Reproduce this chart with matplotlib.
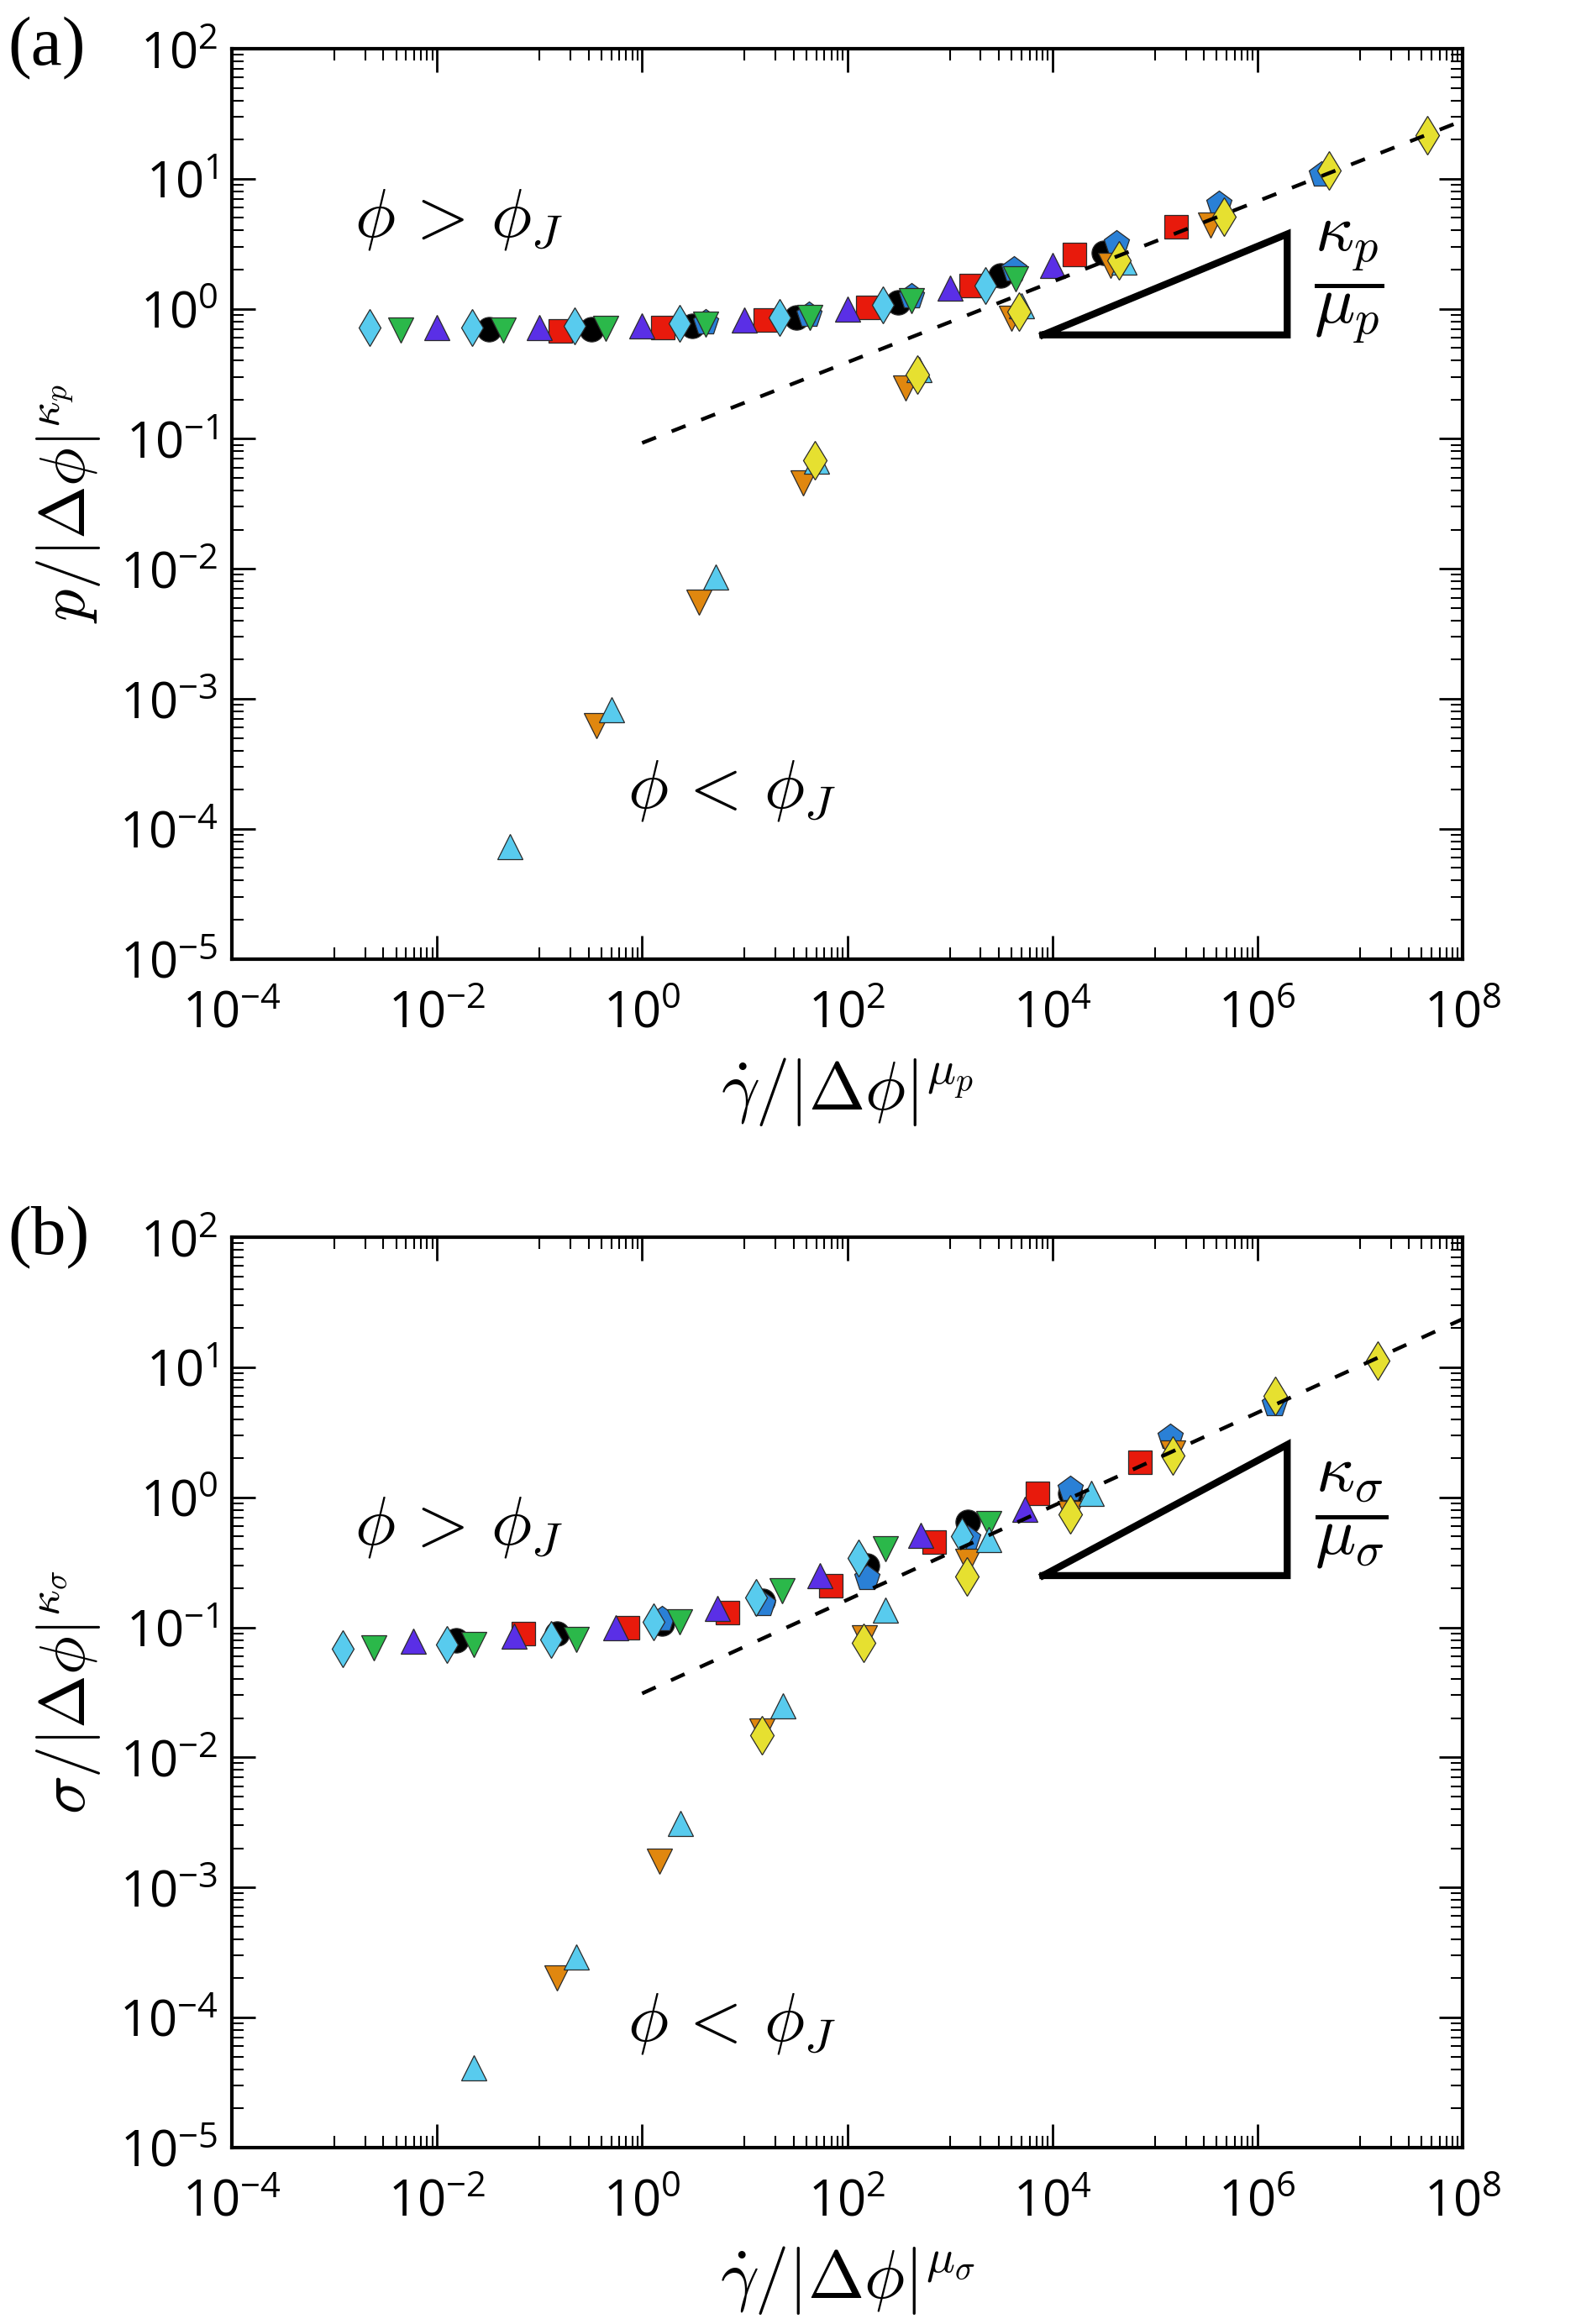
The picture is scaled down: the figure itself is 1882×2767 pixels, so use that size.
import math
import matplotlib
matplotlib.use('Agg')
import matplotlib.pyplot as plt
from matplotlib.ticker import FixedLocator, LogLocator, NullFormatter, FuncFormatter

plt.rcParams['font.family'] = ['Open Sans', 'DejaVu Sans']
plt.rcParams['mathtext.fontset'] = 'custom'
plt.rcParams['mathtext.rm'] = 'Open Sans'
plt.rcParams['mathtext.it'] = 'Open Sans:italic'

# ---- panel (a): p / |dphi|^kappa_p  vs  gammadot / |dphi|^mu_p ----
a_cyan_dia_x = [2.2e-3, 2.2e-2, 2.2e-1, 2.3, 22, 224, 2240]
a_cyan_dia_y = [0.72, 0.72, 0.74, 0.77, 0.86, 1.08, 1.52]
a_green_x = [4.4e-3, 4.4e-2, 0.44, 4.2, 43, 420, 4400]
a_green_y = [0.69, 0.69, 0.71, 0.76, 0.86, 1.15, 1.70]
a_purple_x = [1e-2, 0.1, 1.0, 10, 100, 1000, 1e4]
a_purple_y = [0.72, 0.72, 0.74, 0.82, 1.0, 1.45, 2.15]
a_black_x = [3.2e-2, 0.32, 3.1, 32, 310, 3100, 3.2e4]
a_black_y = [0.70, 0.70, 0.74, 0.86, 1.12, 1.80, 2.70]
a_red_x = [0.16, 1.6, 16, 160, 1600, 1.65e4, 1.6e5]
a_red_y = [0.68, 0.72, 0.82, 1.02, 1.50, 2.60, 4.30]
a_pent_x = [4.2, 42, 420, 4200, 4.2e4, 4.2e5, 4.2e6]
a_pent_y = [0.78, 0.90, 1.25, 2.0, 3.2, 6.4, 10.7]
a_orange_x = [0.36, 3.6, 37, 370, 4000, 3.7e4, 3.5e5]
a_orange_y = [6.2e-4, 5.5e-3, 0.046, 0.245, 0.85, 2.15, 4.4]
a_cyan_up_x = [0.051, 0.50, 5.2, 50, 500, 5000, 5e4]
a_cyan_up_y = [7.3e-5, 8.2e-4, 8.7e-3, 0.067, 0.34, 1.05, 2.3]
a_yellow_x = [48, 480, 4700, 4.5e4, 4.7e5, 5e6, 4.5e7]
a_yellow_y = [0.068, 0.31, 0.95, 2.35, 5.1, 11.6, 21.8]
a_fit_x = [1.0, 1e8]
a_fit_y = [0.093, 28.0]
a_tri_x = [8100, 1.95e6, 1.95e6, 8100]
a_tri_y = [0.63, 3.76, 0.63, 0.63]

# ---- panel (b): sigma / |dphi|^kappa_s  vs  gammadot / |dphi|^mu_s ----
b_cyan_dia_x = [1.2e-3, 1.25e-2, 0.13, 1.3, 13, 130, 1300]
b_cyan_dia_y = [0.068, 0.074, 0.081, 0.11, 0.17, 0.34, 0.50]
b_green_x = [2.4e-3, 2.3e-2, 0.23, 2.3, 23, 235, 2400]
b_green_y = [0.069, 0.074, 0.081, 0.11, 0.19, 0.40, 0.63]
b_purple_x = [5.9e-3, 0.056, 0.55, 5.4, 54, 520, 5400]
b_purple_y = [0.078, 0.085, 0.10, 0.14, 0.25, 0.51, 0.81]
b_black_x = [0.0155, 0.148, 1.55, 15, 155, 1500, 1.5e4]
b_black_y = [0.079, 0.089, 0.107, 0.16, 0.30, 0.65, 1.07]
b_red_x = [0.07, 0.72, 6.8, 69, 710, 7200, 7.1e4]
b_red_y = [0.09, 0.10, 0.13, 0.21, 0.45, 1.07, 1.86]
b_pent_x = [1.55, 15, 155, 1500, 1.5e4, 1.4e5, 1.45e6]
b_pent_y = [0.115, 0.15, 0.24, 0.48, 1.15, 2.9, 5.2]
b_orange_x = [0.148, 1.48, 14.8, 148, 1500, 1.5e4, 1.5e5]
b_orange_y = [2.0e-4, 1.6e-3, 0.016, 0.083, 0.32, 0.75, 2.2]
b_cyan_up_x = [0.023, 0.23, 2.35, 23.5, 235, 2400, 2.4e4]
b_cyan_up_y = [4.1e-5, 2.9e-4, 3.1e-3, 0.025, 0.135, 0.47, 1.07]
b_yellow_x = [14.8, 145, 1480, 1.5e4, 1.5e5, 1.5e6, 1.5e7]
b_yellow_y = [0.0148, 0.076, 0.245, 0.74, 2.1, 6.0, 11.2]
b_fit_x = [1.0, 1e8]
b_fit_y = [0.031, 23.5]
b_tri_x = [8100, 1.95e6, 1.95e6, 8100]
b_tri_y = [0.25, 2.54, 0.25, 0.25]

x_major = [1e-4, 1e-2, 1e0, 1e2, 1e4, 1e6, 1e8]
x_minor = [k * 10.0 ** e for e in (-3, -1, 1, 3, 5, 7) for k in range(1, 10)]

c_cyan = '#58cbee'
c_green = '#2bb84a'
c_purple = '#5a2fe6'
c_red = '#e81a0c'
c_pent = '#2a80d6'
c_orange = '#e0870f'
c_yellow = '#e6e030'
edge = '#2a2a2a'


def draw_panel(ax, d, tri, fit, txt_frac, frac_pos, up_pos, lo_pos, xlab, ylab, tag):
    (cd, gr, pu, bk, rd, pt, orr, cu, ye) = d
    kw = dict(linestyle='none', markeredgecolor=edge, markeredgewidth=0.9)
    ax.plot(bk[0], bk[1], marker='o', color='black', markersize=21, **kw)
    ax.plot(pt[0], pt[1], marker='p', color=c_pent, markersize=23, **kw)
    ax.plot(rd[0], rd[1], marker='s', color=c_red, markersize=20, **kw)
    ax.plot(pu[0], pu[1], marker='^', color=c_purple, markersize=21, **kw)
    ax.plot(cd[0], cd[1], marker='d', color=c_cyan, markersize=22, **kw)
    ax.plot(gr[0], gr[1], marker='v', color=c_green, markersize=21, **kw)
    ax.plot(orr[0], orr[1], marker='v', color=c_orange, markersize=21, **kw)
    ax.plot(cu[0], cu[1], marker='^', color=c_cyan, markersize=21, **kw)
    ax.plot(ye[0], ye[1], marker='d', color=c_yellow, markersize=23, **kw)

    ax.plot(fit[0], fit[1], color='black', linestyle=(0, (4, 4.5)), linewidth=3.2)
    ax.plot(tri[0], tri[1], color='black', linewidth=6, solid_joinstyle='miter')

    ax.set_xscale('log')
    ax.set_yscale('log')
    ax.set_xlim(1e-4, 1e8)
    ax.set_ylim(1e-5, 1e2)
    ax.xaxis.set_major_locator(FixedLocator(x_major))
    ax.xaxis.set_minor_locator(FixedLocator(x_minor))
    ax.xaxis.set_minor_formatter(NullFormatter())
    ax.yaxis.set_major_locator(LogLocator(base=10, numticks=20))
    ax.yaxis.set_minor_locator(LogLocator(base=10, subs=range(2, 10), numticks=20))
    ax.yaxis.set_minor_formatter(NullFormatter())
    fmt = FuncFormatter(lambda v, p: r'$\mathregular{10^{%d}}$' % round(math.log10(v)))
    ax.xaxis.set_major_formatter(fmt)
    ax.yaxis.set_major_formatter(fmt)
    ax.tick_params(which='both', direction='in', top=True, right=True, labelsize=43)
    ax.tick_params(which='major', length=20, width=2, pad=12)
    ax.tick_params(axis='x', which='major', pad=26)
    ax.tick_params(which='minor', length=10, width=1.5)
    for s in ax.spines.values():
        s.set_linewidth(3)

    ax.text(frac_pos[0], frac_pos[1], txt_frac, transform=ax.transAxes, fontsize=58,
            math_fontfamily='cm', ha='center', va='center')
    ax.text(up_pos[0], up_pos[1], r'$\phi\, >\, \phi_J$', transform=ax.transAxes, fontsize=58,
            math_fontfamily='cm', ha='center', va='center')
    ax.text(lo_pos[0], lo_pos[1], r'$\phi\, <\, \phi_J$', transform=ax.transAxes, fontsize=58,
            math_fontfamily='cm', ha='center', va='center')
    ax.set_xlabel(xlab, fontsize=58, math_fontfamily='cm', labelpad=14)
    ax.set_ylabel(ylab, fontsize=55, math_fontfamily='cm', labelpad=14)
    ax.text(-0.182, 1.0, tag, transform=ax.transAxes, fontsize=60, family='Liberation Serif',
            ha='left', va='center')


fig = plt.figure(figsize=(18.83, 27.67), dpi=100)
ax1 = fig.add_axes([0.1466, 0.5874, 0.778, 0.3916])
ax2 = fig.add_axes([0.1466, 0.076, 0.778, 0.3916])

data_a = [(a_cyan_dia_x, a_cyan_dia_y), (a_green_x, a_green_y), (a_purple_x, a_purple_y),
          (a_black_x, a_black_y), (a_red_x, a_red_y), (a_pent_x, a_pent_y),
          (a_orange_x, a_orange_y), (a_cyan_up_x, a_cyan_up_y), (a_yellow_x, a_yellow_y)]
data_b = [(b_cyan_dia_x, b_cyan_dia_y), (b_green_x, b_green_y), (b_purple_x, b_purple_y),
          (b_black_x, b_black_y), (b_red_x, b_red_y), (b_pent_x, b_pent_y),
          (b_orange_x, b_orange_y), (b_cyan_up_x, b_cyan_up_y), (b_yellow_x, b_yellow_y)]

draw_panel(ax1, data_a, (a_tri_x, a_tri_y), (a_fit_x, a_fit_y), r'$\dfrac{\kappa_p}{\mu_p}$',
           (0.908, 0.744), (0.184, 0.813), (0.406, 0.186),
           r'$\dot{\gamma}/|\Delta\phi|^{\mu_p}$', r'$p/|\Delta\phi|^{\kappa_p}$', '(a)')
draw_panel(ax2, data_b, (b_tri_x, b_tri_y), (b_fit_x, b_fit_y), r'$\dfrac{\kappa_\sigma}{\mu_\sigma}$',
           (0.91, 0.695), (0.184, 0.682), (0.406, 0.137),
           r'$\dot{\gamma}/|\Delta\phi|^{\mu_\sigma}$', r'$\sigma/|\Delta\phi|^{\kappa_\sigma}$', '(b)')

fig.savefig('out.png', dpi=100)
